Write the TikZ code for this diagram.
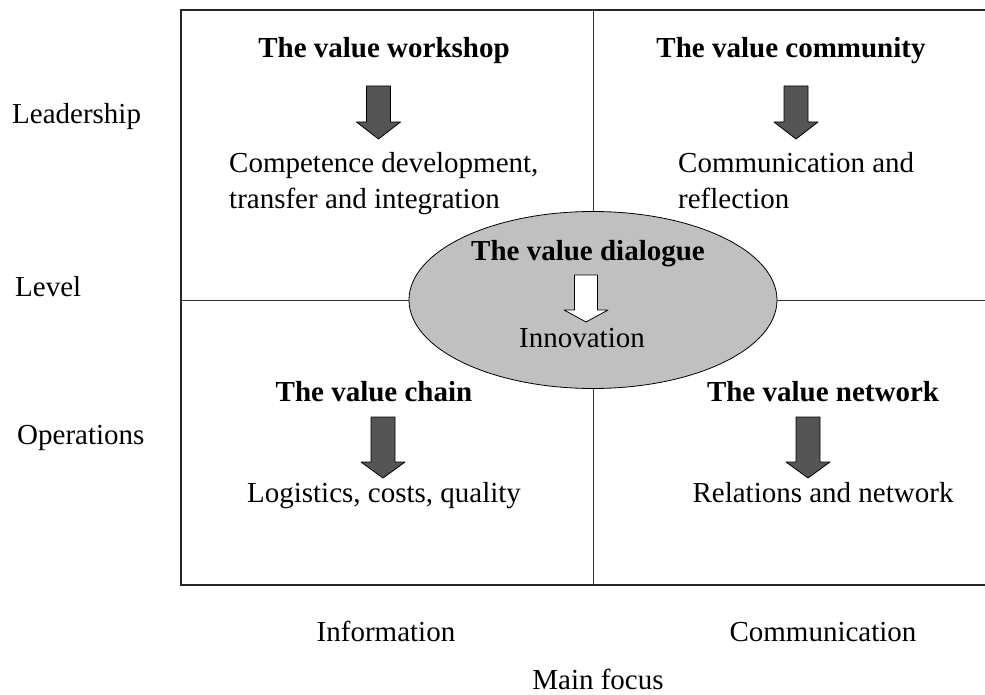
\documentclass[tikz,border=0pt]{standalone}
\usepackage{fontspec}
\setmainfont{Liberation Serif}
\usetikzlibrary{shapes.geometric}
\definecolor{ellgray}{HTML}{C0C0C0}
\definecolor{arrgray}{HTML}{555555}
\tikzset{
  txt/.style={inner sep=0pt, font=\fontsize{29}{35}\selectfont},
  btxt/.style={inner sep=0pt, font=\fontsize{29}{35}\selectfont\bfseries},
  outer/.style={line width=1.6pt, draw=black!85},
  inner/.style={line width=1pt, draw=black!80},
  darrow/.style={fill=arrgray, draw=black, line width=0.8pt, line join=round},
  warrow/.style={fill=white, draw=black, line width=0.8pt, line join=round},
}
\begin{document}
\begin{tikzpicture}[x=1pt,y=-1pt]
\useasboundingbox (0,0) rectangle (985,695);
% frame
\coordinate (tr) at (986,10);
\coordinate (tl) at (181,10);
\coordinate (bl) at (181,585);
\coordinate (br) at (986,585);
\coordinate (vt) at (593,10);
\coordinate (vb) at (593,585);
\coordinate (hl) at (181,300);
\coordinate (hr) at (986,300);
\draw[inner] (vt) -- (vb);
\draw[inner] (hl) -- (hr);
\draw[outer] (tr) -- (tl) -- (bl) -- (br);
% ellipse
\node[ellipse, fill=ellgray, draw=black, line width=0.8pt, minimum width=368pt, minimum height=177pt, inner sep=0pt] (dlg) at (593,300) {};
% left labels
\node[txt, anchor=base west] (lead) at (12,124) {Leadership};
\node[txt, anchor=base west] (lev) at (15,296) {Level};
\node[txt, anchor=base west] (ops) at (17,444) {Operations};
% bottom labels
\node[txt, anchor=base] (info) at (386,641) {Information};
\node[txt, anchor=base] (comm) at (823,641) {Communication};
\node[txt, anchor=base] (focus) at (598,689) {Main focus};
% top left quadrant
\node[btxt, anchor=base] (ws) at (384,58) {The value workshop};
\draw[darrow, shift={(378.5,86)}] (-12,0) -- (12,0) -- (12,36) -- (22,36) -- (0,53) -- (-22,36) -- (-12,36) -- cycle;
\node[txt, anchor=base west] (cd1) at (229,173) {Competence development,};
\node[txt, anchor=base west] (cd2) at (229,208) {transfer and integration};
% top right quadrant
\node[btxt, anchor=base] (vc) at (791,58) {The value community};
\draw[darrow, shift={(796,86)}] (-12,0) -- (12,0) -- (12,36) -- (22,36) -- (0,53) -- (-22,36) -- (-12,36) -- cycle;
\node[txt, anchor=base west] (cr1) at (678,173) {Communication and};
\node[txt, anchor=base west] (cr2) at (678,208) {reflection};
% centre
\node[btxt, anchor=base] (vd) at (588,260) {The value dialogue};
\draw[warrow, shift={(586,275)}] (-11.5,0) -- (11.5,0) -- (11.5,35) -- (22,35) -- (0,47) -- (-22,35) -- (-11.5,35) -- cycle;
\node[txt, anchor=base] (inn) at (582,347) {Innovation};
% bottom left quadrant
\node[btxt, anchor=base] (ch) at (374,401) {The value chain};
\draw[darrow, shift={(383,417)}] (-12,0) -- (12,0) -- (12,45) -- (22,45) -- (0,61) -- (-22,45) -- (-12,45) -- cycle;
\node[txt, anchor=base] (lcq) at (384,502) {Logistics, costs, quality};
% bottom right quadrant
\node[btxt, anchor=base] (nw) at (823,401) {The value network};
\draw[darrow, shift={(808,417)}] (-12,0) -- (12,0) -- (12,45) -- (22,45) -- (0,61) -- (-22,45) -- (-12,45) -- cycle;
\node[txt, anchor=base] (rn) at (823,502) {Relations and network};
\end{tikzpicture}
\end{document}
